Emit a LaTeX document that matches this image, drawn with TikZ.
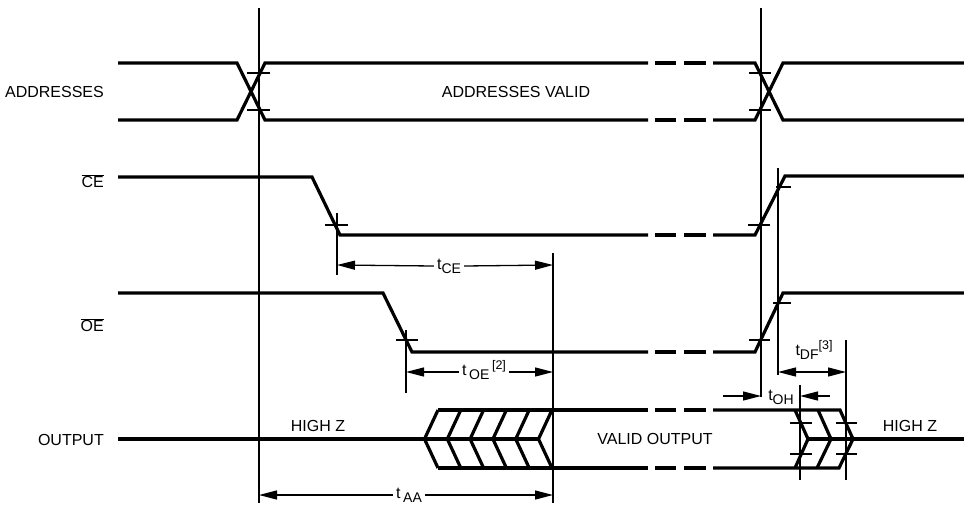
\documentclass[tikz,border=0pt]{standalone}
\usepackage{fontspec}
\setmainfont{Liberation Sans}
\usetikzlibrary{arrows.meta}
\tikzset{
  sig/.style={line width=3.2pt, line join=miter, line cap=butt},
  guide/.style={line width=1.2pt},
  tick/.style={line width=1.2pt},
  dimarr/.style={line width=1.3pt, -{Triangle[length=18pt,width=9pt]}},
  dimboth/.style={line width=1.3pt, {Triangle[length=18pt,width=9pt]}-{Triangle[length=18pt,width=9pt]}},
  lbl/.style={font=\fontsize{16}{18}\selectfont, inner sep=2pt},
}
\newcommand{\gaprow}[1]{\draw[sig] (655,#1)--(676,#1) (684,#1)--(706,#1);}
\newcommand{\subtx}[1]{\raisebox{-4pt}{\fontsize{14}{15}\selectfont #1}}
\newcommand{\suptx}[1]{\raisebox{6pt}{\fontsize{12.5}{13}\selectfont #1}}
\begin{document}
\begin{tikzpicture}[x=1pt,y=-1pt]
\useasboundingbox (0,0) rectangle (964,504);
% guide lines
\draw[guide] (259,8) -- (259,503);
\draw[guide] (761,8) -- (761,397);
\draw[guide] (778,168) -- (778,375);
\draw[guide] (553,253) -- (553,503);
\draw[guide] (337,213) -- (337,275);
\draw[guide] (406,330) -- (406,393);
\draw[guide] (800,385) -- (800,480);
\draw[guide] (846,340) -- (846,480);
% ticks
\draw[tick] (247,73)--(270,73) (247,110)--(270,110);
\draw[tick] (749,73)--(771,73) (749,110)--(771,110);
\draw[tick] (325,225)--(348,225);
\draw[tick] (396,340)--(418,340);
\draw[tick] (748,225)--(770,225) (776,187)--(791,187);
\draw[tick] (749,340)--(770,340) (773,303)--(791,303);
\draw[tick] (790,423)--(812,423) (790,454)--(812,454);
\draw[tick] (836,423)--(857,423) (836,454)--(857,454);
% ADDRESSES
\draw[sig] (118,63)--(237,63)--(265,120)--(648,120);
\draw[sig] (118,120)--(237,120)--(265,63)--(648,63);
\gaprow{63}\gaprow{120}
\draw[sig] (713,120)--(755,120)--(783,63)--(964,63);
\draw[sig] (713,63)--(755,63)--(783,120)--(964,120);
% CE
\draw[sig] (118,177)--(312,177)--(340,235)--(648,235);
\gaprow{235}
\draw[sig] (713,235)--(755,235)--(785,176)--(964,176);
% OE
\draw[sig] (118,293)--(383,293)--(412,352)--(648,352);
\gaprow{352}
\draw[sig] (713,352)--(755,352)--(783,293)--(964,293);
% OUTPUT
\draw[sig] (118,439)--(425,439);
\draw[sig] (425,439)--(538.5,439);
\foreach \i in {0,...,5}{
  \pgfmathsetmacro{\xt}{438+22.8*\i}
  \draw[sig] (\xt,410)--(\xt-13.5,439)--(\xt,468);
}
\draw[sig] (438,410)--(648,410);
\draw[sig] (438,468)--(648,468);
\gaprow{410}\gaprow{468}
\draw[sig] (713,410)--(840,410)--(853,439)--(839,468)--(713,468);
\draw[sig] (795,410)--(808,439)--(795,468);
\draw[sig] (818,410)--(831,439)--(817,468);
\draw[sig] (808,439)--(964,439);
% labels
\node[lbl, anchor=east] (addr) at (106,92) {ADDRESSES};
\node[lbl] (addrv) at (516,92) {ADDRESSES VALID};
\node[lbl, anchor=east] (ce) at (106,181) {$\overline{\mbox{CE}}$};
\node[lbl, anchor=east] (oe) at (106,325) {$\overline{\mbox{OE}}$};
\node[lbl, anchor=east] (out) at (106,440) {OUTPUT};
\node[lbl] (hz1) at (318,426) {HIGH Z};
\node[lbl] (vo) at (655,439) {VALID OUTPUT};
\node[lbl] (hz2) at (910,426) {HIGH Z};
% timing labels
\node[lbl, inner sep=3pt] (tce) at (449,266) {t\subtx{CE}};
\draw[dimarr] (tce.west) -- (337,265);
\draw[dimarr] (tce.east) -- (553,265);
\node[lbl, inner sep=3pt] (toe) at (484,370) {t\,\subtx{OE}\,\suptx{[2]}};
\draw[dimarr] (toe.west |- 0,372) -- (406,372);
\draw[dimarr] (toe.east |- 0,372) -- (553,372);
\node[lbl, inner sep=3pt] (taa) at (409,495) {t\,\subtx{AA}};
\draw[dimarr] (taa.west |- 0,495) -- (259,495);
\draw[dimarr] (taa.east |- 0,495) -- (553,495);
\coordinate (ohl) at (723,396);
\coordinate (ohr) at (830,396);
\draw[dimarr] (ohl) -- (761,396);
\draw[dimarr] (ohr) -- (800,396);
\node[lbl] (toh) at (781,397) {t\subtx{OH}};
\draw[dimboth] (778,372) -- (846,372);
\node[lbl] (tdf) at (814,350) {t\subtx{DF}\suptx{[3]}};
\end{tikzpicture}
\end{document}
